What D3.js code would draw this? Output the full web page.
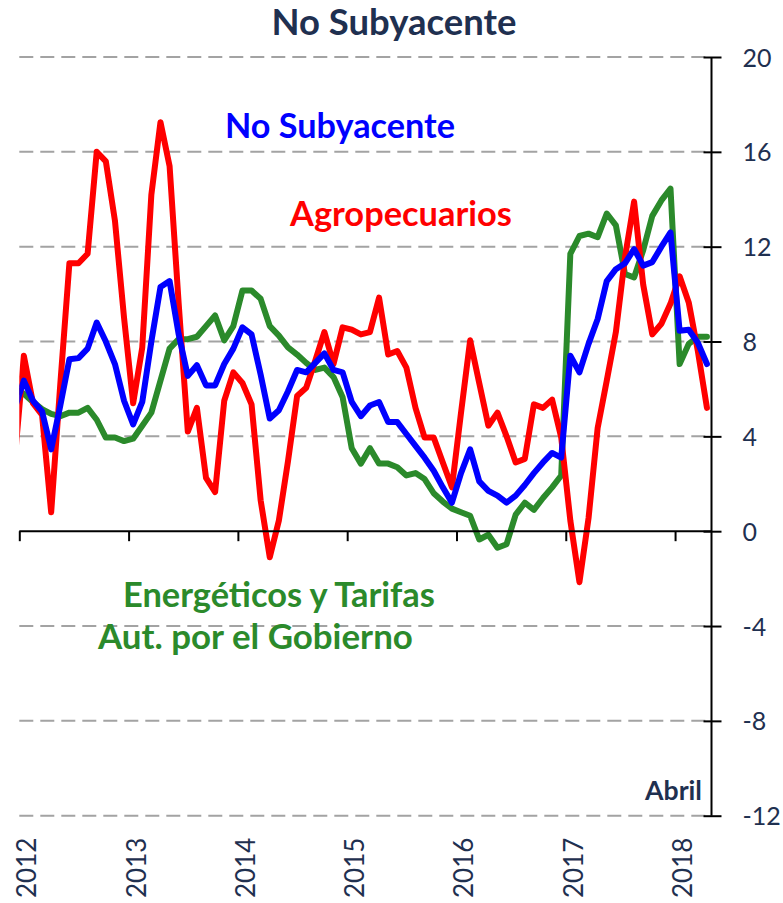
<!DOCTYPE html>
<html>
<head>
<meta charset="utf-8">
<script src="https://cdn.jsdelivr.net/npm/d3@7"></script>
<style>
  html, body { margin: 0; padding: 0; background: #fff; }
  svg { display: block; }
</style>
</head>
<body>
<svg id="chart" width="783" height="903"></svg>
<script>
// ---------------- DATA ----------------
// Monthly series, Dec 2011 (first value, only partly visible) through Apr 2018
const startMonth = "2011-12";
const yearLabels = ["2012", "2013", "2014", "2015", "2016", "2017", "2018"];
const yTicks = [20, 16, 12, 8, 4, 0, -4, -8, -12];

const noSubyacente = [5.2,
  6.35, 5.5, 5.05, 3.45, 5.3, 7.25, 7.3, 7.7, 8.8, 8.0, 7.05, 5.5,
  4.5, 5.45, 8.0, 10.3, 10.55, 8.3, 6.55, 7.0, 6.15, 6.15, 7.05, 7.7,
  8.6, 8.3, 6.6, 4.75, 5.1, 5.9, 6.8, 6.7, 7.1, 7.5, 6.8, 6.7,
  5.45, 4.85, 5.3, 5.45, 4.6, 4.6, 4.1, 3.6, 3.1, 2.55, 1.85, 1.2,
  2.45, 3.45, 2.1, 1.7, 1.5, 1.2, 1.5, 1.95, 2.45, 2.9, 3.3, 3.1,
  7.4, 6.7, 7.9, 8.95, 10.55, 11.05, 11.3, 11.9, 11.2, 11.35, 12.0, 12.6,
  8.45, 8.5, 7.95, 7.05];

const agropecuarios = [3.0,
  7.4, 5.4, 4.9, 0.8, 6.2, 11.3, 11.3, 11.7, 16.0, 15.6, 13.1, 9.0,
  5.4, 7.75, 14.2, 17.25, 15.4, 9.6, 4.2, 5.2, 2.25, 1.65, 5.5, 6.7,
  6.25, 5.35, 1.3, -1.1, 0.45, 2.95, 5.7, 6.05, 7.2, 8.4, 7.05, 8.6,
  8.5, 8.3, 8.4, 9.85, 7.45, 7.6, 6.9, 5.2, 3.95, 3.95, 2.9, 1.85,
  5.0, 8.05, 6.25, 4.45, 5.0, 4.0, 2.9, 3.05, 5.35, 5.2, 5.55, 3.95,
  0.45, -2.15, 0.55, 4.35, 6.35, 8.4, 11.55, 13.9, 10.4, 8.3, 8.75, 9.6,
  10.75, 9.65, 7.6, 5.2];

const energeticos = [6.0,
  5.8, 5.45, 5.15, 4.95, 4.85, 5.0, 5.0, 5.2, 4.7, 3.95, 3.95, 3.8,
  3.9, 4.45, 5.0, 6.35, 7.7, 8.1, 8.1, 8.2, 8.65, 9.1, 8.05, 8.65,
  10.15, 10.15, 9.8, 8.65, 8.25, 7.75, 7.45, 7.1, 6.8, 6.9, 6.5, 5.65,
  3.5, 2.85, 3.5, 2.85, 2.85, 2.7, 2.35, 2.45, 2.2, 1.6, 1.25, 0.95,
  0.8, 0.65, -0.35, -0.15, -0.7, -0.55, 0.7, 1.2, 0.9, 1.4, 1.85, 2.35,
  11.7, 12.45, 12.55, 12.4, 13.4, 12.9, 10.85, 10.7, 11.85, 13.3, 13.95, 14.45,
  7.05, 7.9, 8.2, 8.2];

const seriesNames = ["Energéticos y Tarifas Aut. por el Gobierno", "Agropecuarios", "No Subyacente"];
const seriesColors = ["#2B8A2B", "#FF0000", "#0000FF"];
// -------------------------------------

const svg = d3.select("#chart");
const navy = "#1F3050";
const plotLeft = 19.3, plotRight = 711.5, plotTop = 57, plotBottom = 815.7;
const nCats = 76; // Jan 2012 .. Apr 2018

const x = d3.scaleLinear().domain([0, nCats]).range([plotLeft, plotRight]);
const y = d3.scaleLinear().domain([-12, 20]).range([plotBottom, plotTop]);

// month index: 0 = Dec 2011 -> category -1
const monthPos = i => x(i - 1 + 0.5);

// gridlines
svg.append("g").selectAll("line")
  .data(yTicks.filter(d => d !== 0))
  .join("line")
  .attr("x1", plotLeft).attr("x2", plotRight)
  .attr("y1", d => y(d)).attr("y2", d => y(d))
  .attr("stroke", "#A3A3A3").attr("stroke-width", 2)
  .attr("stroke-dasharray", "14,7");

// clip
svg.append("clipPath").attr("id", "plotclip")
  .append("rect").attr("x", plotLeft).attr("y", 0).attr("width", 783 - plotLeft).attr("height", 903);

// lines
const line = d3.line().x((d, i) => monthPos(i)).y(d => y(d));
const allSeries = [energeticos, agropecuarios, noSubyacente];
svg.append("g").attr("clip-path", "url(#plotclip)")
  .selectAll("path").data(allSeries).join("path")
  .attr("d", d => line(d))
  .attr("fill", "none")
  .attr("stroke", (d, i) => seriesColors[i])
  .attr("stroke-width", 6)
  .attr("stroke-linejoin", "round")
  .attr("stroke-linecap", "round");

// x axis (at zero)
const yearTickVals = yearLabels.map((d, i) => i * 12);
const xAxis = d3.axisBottom(x).tickValues(yearTickVals).tickSize(10).tickFormat("");
const gx = svg.append("g").attr("transform", `translate(0,${y(0)})`).call(xAxis);
gx.select(".domain").attr("d", `M${plotLeft},0H${plotRight}`).attr("stroke", "#000").attr("stroke-width", 2);
gx.selectAll(".tick line").attr("stroke", "#000").attr("stroke-width", 2);

// year labels (rotated)
svg.append("g").selectAll("text").data(yearLabels).join("text")
  .attr("transform", (d, i) => `translate(${x(i * 12) + 17},898) rotate(-90)`)
  .attr("text-anchor", "start")
  .attr("font-family", "Lato, 'Open Sans', sans-serif")
  .attr("font-size", 26)
  .attr("fill", navy)
  .text(d => d);

// y axis (right)
const yAxis = d3.axisRight(y).tickValues(yTicks).tickSize(10).tickFormat(d3.format("d"));
const gy = svg.append("g").attr("transform", `translate(${plotRight},0)`).call(yAxis);
gy.select(".domain").attr("d", `M0,${plotTop}V${plotBottom}`).attr("stroke", "#000").attr("stroke-width", 2);
gy.selectAll(".tick line").attr("x1", -8).attr("x2", 10).attr("stroke", "#000").attr("stroke-width", 2);
gy.selectAll(".tick text")
  .attr("x", 31).attr("dy", "0.36em")
  .attr("text-anchor", "start")
  .attr("font-family", "Lato, 'Open Sans', sans-serif")
  .attr("font-size", 25)
  .attr("fill", navy)
  .text(d => d < 0 ? "-" + Math.abs(d) : d);

// text helper fitting width
function fitText(t, width) {
  const base = +t.attr("font-size");
  const w = t.node().getComputedTextLength();
  if (w > 0) t.attr("font-size", base * width / w);
  return t;
}
function label(txt, xPos, yPos, anchor, color, width, size) {
  const t = svg.append("text")
    .attr("x", xPos).attr("y", yPos)
    .attr("text-anchor", anchor)
    .attr("font-family", "Lato, 'Open Sans', sans-serif")
    .attr("font-weight", "bold")
    .attr("font-size", size)
    .attr("fill", color)
    .text(txt);
  fitText(t, width);
  return t;
}

label("No Subyacente", 394, 34.5, "middle", navy, 245, 33);
label("No Subyacente", 225, 138, "start", seriesColors[2], 230, 30);
label("Agropecuarios", 290, 226, "start", seriesColors[1], 222, 30);
label("Energéticos y Tarifas", 123, 607, "start", seriesColors[0], 312, 30);
label("Aut. por el Gobierno", 98, 648.5, "start", seriesColors[0], 315, 30);
label("Abril", 702, 800, "end", navy, 57, 24);
</script>
</body>
</html>
